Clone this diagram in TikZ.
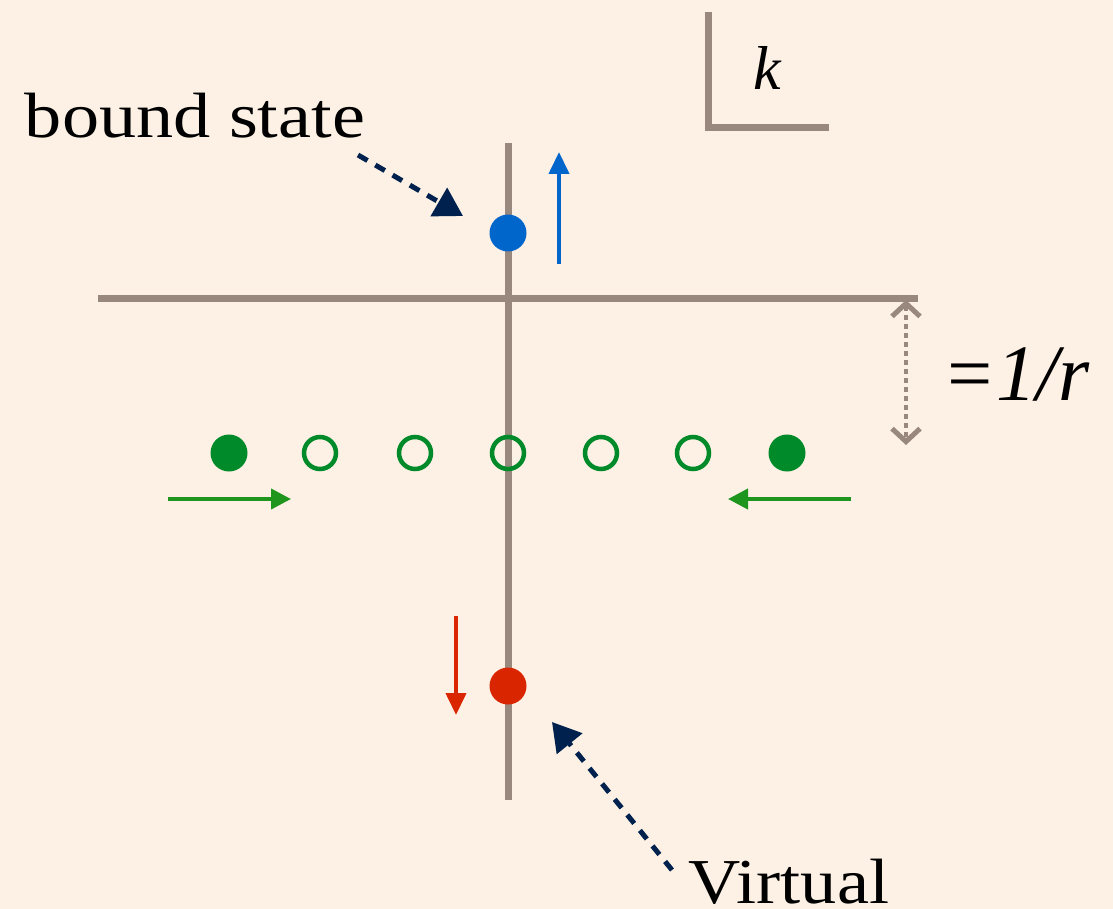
\documentclass[tikz,border=0pt]{standalone}
\usepackage{fontspec}
\setmainfont{Liberation Serif}
\usetikzlibrary{arrows.meta}
\definecolor{bg}{RGB}{252,241,228}
\definecolor{axis}{RGB}{152,136,126}
\definecolor{navy}{RGB}{0,33,77}
\definecolor{dotblue}{RGB}{0,102,204}
\definecolor{dotgreen}{RGB}{0,138,42}
\definecolor{arrgreen}{RGB}{30,150,30}
\definecolor{dotred}{RGB}{217,37,0}
\tikzset{
  axisline/.style={draw=axis, line width=7pt},
  fulldot/.style={circle, inner sep=0pt, minimum size=37pt},
  opendot/.style={circle, inner sep=0pt, minimum size=32pt, draw=dotgreen, line width=4.5pt},
  pointer/.style={navy, line width=5pt, dash pattern=on 11pt off 9pt, -{Triangle[length=28pt,width=32pt]}},
  moveg/.style={arrgreen, line width=4pt, -{Triangle[length=20pt,width=20pt]}},
  label/.style={inner sep=0pt, text=black},
}
\begin{document}
\begin{tikzpicture}[x=1pt,y=-1pt]
\fill[bg] (0,0) rectangle (1113,909);
\useasboundingbox (0,0) rectangle (1113,909);
% k corner
\coordinate (kt) at (708,12);
\coordinate (kc) at (708,128);
\coordinate (kr) at (829,128);
\draw[axisline] (kt) -- (kc) -- (kr);
\node[label, font=\fontsize{62}{70}\selectfont\itshape] (k) at (767,68) {k};
% axes
\coordinate (vt) at (508,143);
\coordinate (vb) at (508,800);
\coordinate (hl) at (98,298);
\coordinate (hr) at (918,298);
\draw[axisline] (hl) -- (hr);
\draw[axisline] (vt) -- (vb);
% bound state
\node[fulldot, fill=dotblue] (bdot) at (508,233) {};
\coordinate (bu0) at (559,264);
\coordinate (bu1) at (559,152);
\draw[dotblue, line width=4pt, -{Triangle[length=22pt,width=20pt]}] (bu0) -- (bu1);
\node[label, font=\fontsize{64}{70}\selectfont, anchor=base] (bs) at (195,138) {\scalebox{1.16}[1]{bound state}};
\coordinate (bsa) at (358,155);
\coordinate (bsb) at (463,216);
\draw[pointer] (bsa) -- (bsb);
% 1/r
\coordinate (ra) at (906,300);
\coordinate (rb) at (906,445);
\draw[axis, line width=4.5pt, dash pattern=on 5pt off 4pt, {Straight Barb[length=13pt,width=28pt,line width=5pt]}-{Straight Barb[length=13pt,width=28pt,line width=5pt]}] (ra) -- (rb);
\node[label, font=\fontsize{80}{90}\selectfont\itshape, anchor=base] (r) at (1016,400) {=1/r};
% green row
\node[fulldot, fill=dotgreen] (g1) at (229,453) {};
\node[opendot] (g2) at (320,453) {};
\node[opendot] (g3) at (415,453) {};
\node[opendot] (g4) at (508,453) {};
\node[opendot] (g5) at (601,453) {};
\node[opendot] (g6) at (693,453) {};
\node[fulldot, fill=dotgreen] (g7) at (787,453) {};
\coordinate (gl0) at (168,499);
\coordinate (gl1) at (291,499);
\coordinate (gr0) at (851,499);
\coordinate (gr1) at (728,499);
\draw[moveg] (gl0) -- (gl1);
\draw[moveg] (gr0) -- (gr1);
% virtual
\node[fulldot, fill=dotred] (vdot) at (508,686) {};
\coordinate (vd0) at (456,616);
\coordinate (vd1) at (456,715);
\draw[dotred, line width=4pt, -{Triangle[length=22pt,width=20pt]}] (vd0) -- (vd1);
\node[label, font=\fontsize{64}{70}\selectfont, anchor=base] (virt) at (789,903) {\scalebox{1.13}[1]{Virtual}};
\coordinate (va) at (672,870);
\coordinate (vb2) at (552,722);
\draw[pointer] (va) -- (vb2);
\end{tikzpicture}
\end{document}
